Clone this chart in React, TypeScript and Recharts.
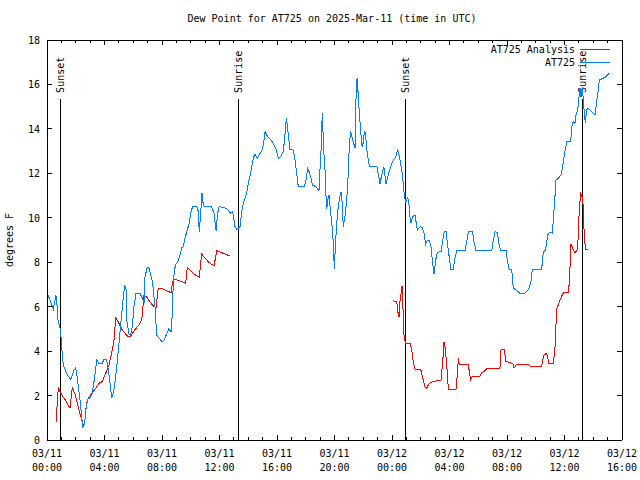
import { LineChart, Line, XAxis, YAxis, ReferenceLine } from "recharts";

const FONT = "'DejaVu Sans Mono', monospace";

// hours since 03/11 00:00 UTC
const stationHours = [
  0.07, 0.44, 0.61, 0.67, 0.77, 0.9, 0.95, 1.02, 1.13, 1.41,
  1.65, 1.88, 2.0, 2.11, 2.3, 2.41, 2.48, 2.62, 2.73, 2.85,
  3.04, 3.15, 3.32, 3.46, 3.62, 3.85, 3.97, 4.15, 4.24, 4.36,
  4.5, 4.61, 4.71, 4.85, 5.01, 5.17, 5.31, 5.41, 5.5, 5.54,
  5.7, 5.82, 5.93, 6.05, 6.19, 6.47, 6.66, 6.75, 6.82, 6.98,
  7.12, 7.35, 7.51, 7.58, 7.63, 7.81, 8.0, 8.14, 8.33, 8.47,
  8.63, 8.72, 8.79, 8.93, 9.06, 9.2, 9.37, 9.48, 9.6, 9.76,
  9.9, 10.02, 10.14, 10.41, 10.53, 10.59, 10.69, 10.78, 10.87, 10.99,
  11.46, 11.62, 11.76, 11.87, 11.97, 12.38, 12.61, 12.78, 12.92, 13.08,
  13.2, 13.43, 13.54, 13.66, 13.77, 13.89, 14.0, 14.12, 14.24, 14.35,
  14.47, 14.63, 14.82, 14.94, 15.05, 15.17, 15.35, 15.58, 15.74, 15.91,
  16.09, 16.28, 16.44, 16.56, 16.65, 16.74, 16.9, 17.13, 17.25, 17.37,
  17.48, 17.9, 18.0, 18.14, 18.23, 18.37, 18.46, 18.69, 18.92, 18.99,
  19.06, 19.15, 19.25, 19.34, 19.41, 19.46, 19.53, 19.62, 19.69, 19.81,
  19.92, 19.99, 20.06, 20.15, 20.26, 20.38, 20.45, 20.52, 20.61, 20.73,
  20.85, 20.96, 21.03, 21.13, 21.27, 21.43, 21.5, 21.57, 21.63, 21.73,
  21.82, 21.89, 21.96, 22.05, 22.12, 22.19, 22.28, 22.42, 22.94, 23.05,
  23.17, 23.28, 23.44, 23.58, 23.74, 23.91, 24.09, 24.26, 24.4, 24.51,
  24.63, 24.74, 24.83, 24.95, 25.09, 25.18, 25.25, 25.32, 25.44, 25.6,
  25.76, 25.95, 26.11, 26.23, 26.34, 26.46, 26.59, 26.71, 26.8, 26.92,
  27.04, 27.15, 27.41, 27.53, 27.64, 27.76, 27.87, 27.99, 28.1, 28.26,
  28.38, 28.5, 29.08, 29.2, 29.31, 29.61, 29.7, 29.84, 30.94, 31.05,
  31.17, 31.33, 31.44, 31.56, 31.93, 32.02, 32.14, 32.33, 32.44, 32.63,
  32.9, 33.25, 33.48, 33.65, 33.76, 33.95, 34.41, 34.53, 34.69, 34.83,
  34.99, 35.15, 35.22, 35.29, 35.41, 35.57, 35.76, 35.87, 35.99, 36.1,
  36.15, 36.43, 36.5, 36.61, 36.73, 36.8, 36.92, 37.01, 37.08, 37.15,
  37.24, 37.31, 37.38, 37.45, 37.54, 37.66, 37.89, 38.12, 38.24, 38.35,
  38.42, 38.59, 38.82, 39.12,
];
const stationDewpt = [
  6.53, 5.9, 6.5, 6.35, 5.37, 5.04, 4.86, 4.2, 3.37, 2.93,
  2.73, 3.15, 3.24, 2.79, 1.8, 1.05, 0.54, 0.76, 1.5, 1.84,
  1.93, 2.1, 2.85, 3.6, 3.42, 3.46, 3.64, 3.6, 3.24, 2.7,
  1.89, 2.1, 2.47, 3.3, 4.37, 5.49, 6.45, 6.98, 6.8, 5.4,
  4.77, 4.72, 5.1, 6.0, 6.6, 6.6, 6.35, 6.17, 7.35, 7.78,
  7.7, 7.07, 6.0, 5.26, 4.72, 4.58, 4.41, 4.5, 4.77, 5.0,
  4.87, 5.7, 7.2, 7.88, 7.97, 8.2, 8.64, 8.7, 9.09, 9.45,
  9.77, 10.27, 10.53, 10.53, 10.27, 9.37, 10.2, 11.13, 10.58, 10.49,
  10.49, 10.2, 9.42, 10.2, 10.5, 10.45, 10.35, 10.2, 10.27, 9.6,
  9.48, 9.6, 10.27, 10.65, 10.87, 11.1, 11.55, 11.85, 12.3, 12.68,
  12.87, 12.68, 12.9, 13.02, 13.28, 13.88, 13.65, 13.5, 13.35, 13.13,
  12.68, 12.78, 12.97, 13.8, 14.5, 14.02, 13.08, 13.05, 12.6, 12.0,
  11.4, 11.4, 11.63, 12.23, 12.08, 11.78, 11.48, 11.4, 11.22, 12.15,
  12.97, 14.7, 13.05, 12.15, 10.95, 10.38, 10.8, 11.03, 10.5, 9.75,
  8.85, 7.68, 8.7, 9.75, 10.5, 10.98, 11.17, 10.8, 9.6, 10.05,
  10.8, 12.0, 13.28, 13.88, 13.5, 13.13, 15.45, 16.27, 15.75, 14.7,
  13.95, 13.28, 13.2, 13.73, 13.88, 13.5, 12.9, 12.33, 12.33, 11.93,
  11.52, 11.93, 12.27, 11.52, 11.93, 12.3, 12.6, 12.72, 13.08, 12.75,
  12.33, 11.85, 11.17, 10.65, 10.95, 10.58, 10.05, 9.75, 10.05, 10.13,
  9.45, 9.6, 9.57, 9.3, 8.82, 9.0, 8.97, 8.7, 8.13, 7.47,
  8.1, 8.45, 8.47, 9.0, 9.37, 9.37, 8.78, 8.18, 7.68, 7.68,
  8.18, 8.52, 8.52, 8.93, 9.37, 9.37, 8.93, 8.54, 8.54, 9.0,
  9.37, 9.33, 8.85, 8.54, 8.54, 8.1, 7.68, 7.65, 6.83, 6.75,
  6.6, 6.6, 6.75, 7.05, 7.65, 7.68, 7.68, 8.47, 8.55, 9.23,
  9.37, 9.3, 9.9, 10.5, 11.7, 11.77, 11.93, 12.3, 12.83, 13.2,
  13.42, 13.42, 14.1, 14.33, 14.25, 14.63, 14.85, 15.45, 15.83, 15.45,
  15.9, 15.3, 14.7, 14.25, 14.85, 14.93, 14.78, 14.63, 15.23, 15.75,
  16.2, 16.25, 16.32, 16.5,
];

const analysisHours = [
  0.65, 0.72, 0.79, 0.88, 0.99, 1.3, 1.6, 1.76, 1.93, 2.11,
  2.27, 2.41, 2.53, 2.62, 2.73, 2.87, 3.15, 3.39, 3.62, 3.85,
  4.08, 4.31, 4.54, 4.66, 4.78, 4.94, 5.24, 5.59, 5.82, 6.1,
  6.4, 6.59, 6.7, 6.75, 6.94, 7.28, 7.58, 7.74, 7.91, 8.21,
  8.63, 8.74, 8.86, 9.02, 9.37, 9.65, 9.76, 9.9, 10.23, 10.59,
  10.76, 10.87, 11.22, 11.62, 11.81, 11.99, 12.38, 12.73, 18.5, 24.09,
  24.33, 24.4, 24.49, 24.56, 24.63, 24.7, 24.74, 24.79, 24.83, 24.93,
  25.25, 25.37, 25.48, 25.6, 26.0, 26.14, 26.3, 26.41, 26.59, 26.87,
  27.41, 27.53, 27.62, 27.69, 27.81, 27.92, 28.45, 28.57, 28.61, 28.68,
  29.31, 29.43, 29.48, 29.59, 30.12, 30.24, 30.47, 30.63, 31.51, 31.58,
  31.81, 31.93, 32.21, 32.4, 32.49, 32.68, 33.48, 33.6, 34.41, 34.57,
  34.76, 34.92, 35.22, 35.33, 35.41, 35.46, 35.57, 35.74, 35.92, 36.26,
  36.33, 36.38, 36.45, 36.57, 36.73, 36.89, 36.96, 37.03, 37.13, 37.2,
  37.27, 37.31, 37.38, 37.47, 37.66,
];
const analysisDewpt = [
  0.83, 1.8, 2.33, 2.22, 2.07, 1.77, 1.43, 2.36, 2.1, 1.65,
  1.23, 0.93, 0.68, 0.75, 1.58, 1.88, 2.13, 2.33, 2.55, 2.63,
  3.0, 3.38, 4.05, 4.5, 5.48, 5.33, 4.95, 4.68, 4.68, 4.95,
  5.18, 5.4, 6.15, 6.53, 6.42, 6.12, 5.93, 6.83, 6.83, 6.75,
  6.63, 7.13, 7.23, 7.2, 7.13, 7.05, 7.77, 7.68, 7.47, 7.32,
  8.37, 8.28, 8.02, 7.83, 8.52, 8.47, 8.37, 8.28, null, 6.26,
  6.22, 5.78, 5.55, 6.3, 6.6, 6.93, 6.53, 5.33, 4.73, 4.35,
  4.35, 4.05, 3.53, 3.18, 3.18, 2.78, 2.37, 2.33, 2.55, 2.63,
  2.7, 3.53, 4.42, 4.2, 3.38, 2.28, 2.28, 3.15, 3.68, 3.38,
  3.38, 2.85, 2.7, 2.88, 2.88, 3.03, 3.12, 3.23, 3.23, 4.05,
  4.08, 3.53, 3.48, 3.45, 3.23, 3.42, 3.42, 3.33, 3.33, 3.83,
  3.9, 3.45, 3.45, 4.05, 5.25, 5.93, 6.08, 6.38, 6.63, 6.63,
  7.05, 7.73, 8.82, 8.63, 8.43, 8.55, 9.18, 10.43, 11.07, 10.98,
  10.88, 10.27, 9.12, 8.58, 8.58,
];

const sunHours = [0.97, 13.29, 24.97, 37.24];
const sunLabels = ["Sunset", "Sunrise", "Sunset", "Sunrise"];
const sunLineTop = 15.35;

const majorHours = [0, 4, 8, 12, 16, 20, 24, 28, 32, 36, 40];
const dateLabels = ["03/11", "03/11", "03/11", "03/11", "03/11", "03/11", "03/12", "03/12", "03/12", "03/12", "03/12"];
const timeLabels = ["00:00", "04:00", "08:00", "12:00", "16:00", "20:00", "00:00", "04:00", "08:00", "12:00", "16:00"];
const hourTicks = Array.from({ length: 41 }, (_, i) => i);
const yTicks = [0, 2, 4, 6, 8, 10, 12, 14, 16, 18];

const stationData = stationHours.map((t, i) => ({ t, v: stationDewpt[i] }));
const analysisData = analysisHours.map((t, i) => ({ t, v: analysisDewpt[i] }));

const txt = { fontFamily: FONT, fontSize: 10, fill: "#000" };

function BottomTick({ x, y, payload }: any) {
  const idx = majorHours.indexOf(payload.value);
  const len = idx >= 0 ? 5 : 3;
  return (
    <g>
      <line x1={x} y1={y} x2={x} y2={y - len} stroke="#000" shapeRendering="crispEdges" />
      {idx >= 0 && (
        <text textAnchor="middle" {...txt}>
          <tspan x={x} y={y + 17}>{dateLabels[idx]}</tspan>
          <tspan x={x} y={y + 31}>{timeLabels[idx]}</tspan>
        </text>
      )}
    </g>
  );
}

function TopTick({ x, y, payload }: any) {
  const len = majorHours.includes(payload.value) ? 5 : 3;
  return <line x1={x} y1={y} x2={x} y2={y + len} stroke="#000" shapeRendering="crispEdges" />;
}

function LeftTick({ x, y, payload }: any) {
  return (
    <g>
      <line x1={x} y1={y} x2={x + 5} y2={y} stroke="#000" shapeRendering="crispEdges" />
      <text x={x - 7} y={y + 4} textAnchor="end" {...txt}>{payload.value}</text>
    </g>
  );
}

function RightTick({ x, y }: any) {
  return <line x1={x} y1={y} x2={x - 5} y2={y} stroke="#000" shapeRendering="crispEdges" />;
}

function SunLabel({ viewBox, text }: any) {
  const x = viewBox.x + 3.5;
  const y = viewBox.y - 6;
  return (
    <text transform={`translate(${x},${y}) rotate(-90)`} textAnchor="start" {...txt}>
      {text}
    </text>
  );
}

const axisLine = { stroke: "#000", shapeRendering: "crispEdges" };

export default function App() {
  return (
    <div style={{ position: "absolute", left: 0, top: 0, width: 640, height: 480, background: "#fff", fontFamily: FONT, fontSize: 10 }}>
      <div style={{ position: "absolute", left: 0, top: 13, width: 664, textAlign: "center", lineHeight: "12px" }}>
        Dew Point for AT725 on 2025-Mar-11 (time in UTC)
      </div>
      <div style={{ position: "absolute", left: -40, top: 234, width: 100, height: 12, lineHeight: "12px", textAlign: "center", transform: "rotate(-90deg)" }}>
        degrees F
      </div>
      <LineChart width={640} height={480} margin={{ top: 0, right: 0, bottom: 0, left: 0 }}>
        <XAxis dataKey="t" type="number" domain={[0, 40]} ticks={hourTicks} interval={0} height={40}
          tickSize={0} tickMargin={0} tickLine={false} tick={BottomTick} axisLine={axisLine} allowDataOverflow />
        <XAxis xAxisId="top" orientation="top" dataKey="t" type="number" domain={[0, 40]} ticks={hourTicks} interval={0}
          height={40} tickSize={0} tickMargin={0} tickLine={false} tick={TopTick} axisLine={axisLine} allowDataOverflow />
        <YAxis type="number" domain={[0, 18]} ticks={yTicks} interval={0} width={47}
          tickSize={0} tickMargin={0} tickLine={false} tick={LeftTick} axisLine={axisLine} allowDataOverflow />
        <YAxis yAxisId="right" orientation="right" type="number" domain={[0, 18]} ticks={yTicks} interval={0} width={18}
          tickSize={0} tickMargin={0} tickLine={false} tick={RightTick} axisLine={axisLine} allowDataOverflow />
        {sunHours.map((h, i) => (
          <ReferenceLine key={i} segment={[{ x: h, y: 0 }, { x: h, y: sunLineTop }]} stroke="#000" strokeWidth={1}
            shapeRendering="crispEdges" label={(p: any) => <SunLabel {...p} text={sunLabels[i]} />} />
        ))}
        <Line data={analysisData} dataKey="v" type="linear" stroke="#ff0000" strokeWidth={1} dot={false}
          activeDot={false} isAnimationActive={false} shapeRendering="crispEdges" />
        <Line data={stationData} dataKey="v" type="linear" stroke="#0080ff" strokeWidth={1} dot={false}
          activeDot={false} isAnimationActive={false} shapeRendering="crispEdges" />
      </LineChart>
      <div style={{ position: "absolute", right: 65, top: 44, lineHeight: "12px", whiteSpace: "nowrap" }}>AT725 Analysis</div>
      <div style={{ position: "absolute", left: 580, top: 49, width: 30, height: 1, background: "#ff0000" }} />
      <div style={{ position: "absolute", right: 65, top: 57, lineHeight: "12px", whiteSpace: "nowrap" }}>AT725</div>
      <div style={{ position: "absolute", left: 580, top: 62, width: 30, height: 1, background: "#0080ff" }} />
    </div>
  );
}
